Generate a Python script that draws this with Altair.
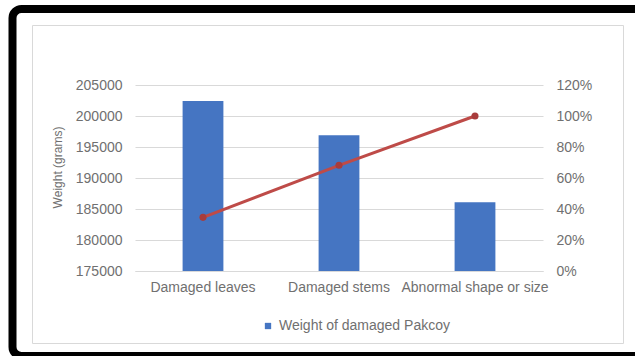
import altair as alt
import pandas as pd

categories = ["Damaged leaves", "Damaged stems", "Abnormal shape or size"]
weights = [202400, 196900, 186100]
cum_pct = [0.346, 0.682, 1.0]
series_name = "Weight of damaged Pakcoy"
y_ticks = [175000, 180000, 185000, 190000, 195000, 200000, 205000]
pct_ticks = [0, 0.2, 0.4, 0.6, 0.8, 1.0, 1.2]

df = pd.DataFrame({"category": categories, "weight": weights, "cum": cum_pct,
                   "series": [series_name] * 3})

FONT = "Liberation Sans"
TXT = "#707070"
BLUE = "#4575c2"
RED = "#be4b48"

x_enc = alt.X("category:N", sort=categories, title=None,
              scale=alt.Scale(paddingInner=0.7, paddingOuter=0.35),
              axis=alt.Axis(labelAngle=0, labelFontSize=14, labelColor=TXT, labelFont=FONT,
                            ticks=False, domain=True, domainColor="#d9d9d9", labelPadding=9,
                            grid=False, labelLimit=0))

bars = alt.Chart(df).mark_bar(color=BLUE).encode(
    x=x_enc,
    y=alt.Y("weight:Q", title="Weight (grams)",
            scale=alt.Scale(domain=[175000, 205000], zero=False, nice=False),
            axis=alt.Axis(values=y_ticks, format="d", labelFontSize=14, labelColor=TXT,
                          labelFont=FONT, ticks=False, domain=False, labelPadding=13,
                          gridColor="#d9d9d9", titleFontSize=12, titleFont=FONT,
                          titleColor=TXT, titleFontWeight="normal", titleAngle=270,
                          titleX=-78, titleY=82, titleBaseline="middle", titleAlign="center")),
    y2=alt.datum(175000),
    color=alt.Color("series:N", scale=alt.Scale(domain=[series_name], range=[BLUE]),
                    legend=alt.Legend(title=None, orient="none", legendX=126, legendY=234,
                                      symbolType="square", symbolSize=40, labelFontSize=14,
                                      labelColor=TXT, labelFont=FONT, symbolStrokeWidth=0,
                                      labelLimit=0)),
)

line = alt.Chart(df).mark_line(color=RED, strokeWidth=3,
                               point=alt.OverlayMarkDef(color="#a83c3c", size=50, filled=True)).encode(
    x=alt.X("category:N", sort=categories),
    y=alt.Y("cum:Q", scale=alt.Scale(domain=[0, 1.2], nice=False),
            axis=alt.Axis(orient="right", values=pct_ticks, format=".0%", labelFontSize=14,
                          labelColor=TXT, labelFont=FONT, ticks=False, domain=False,
                          labelPadding=13, grid=False, title=None)),
)

frame_data = alt.Data(values=[{"a": 1}])
frame = alt.Chart(frame_data).mark_rect(fill=None, stroke="black", strokeWidth=8,
                                         cornerRadius=9).encode(
    x=alt.value(-122.5), x2=alt.value(620), y=alt.value(-76), y2=alt.value(271))
inner = alt.Chart(frame_data).mark_rect(fill=None, stroke="#d9d9d9", strokeWidth=1).encode(
    x=alt.value(-102.5), x2=alt.value(488.5), y=alt.value(-59.5), y2=alt.value(258.5))

chart = alt.layer(inner, bars, line, frame).resolve_scale(y="independent").properties(
    width=408, height=186,
    autosize=alt.AutoSizeParams(type="none"),
    padding={"left": 135, "top": 85, "right": 92, "bottom": 85},
    background="white",
).configure_view(stroke=None)

chart.save("out.html", embed_options={"renderer": "svg", "actions": False})
